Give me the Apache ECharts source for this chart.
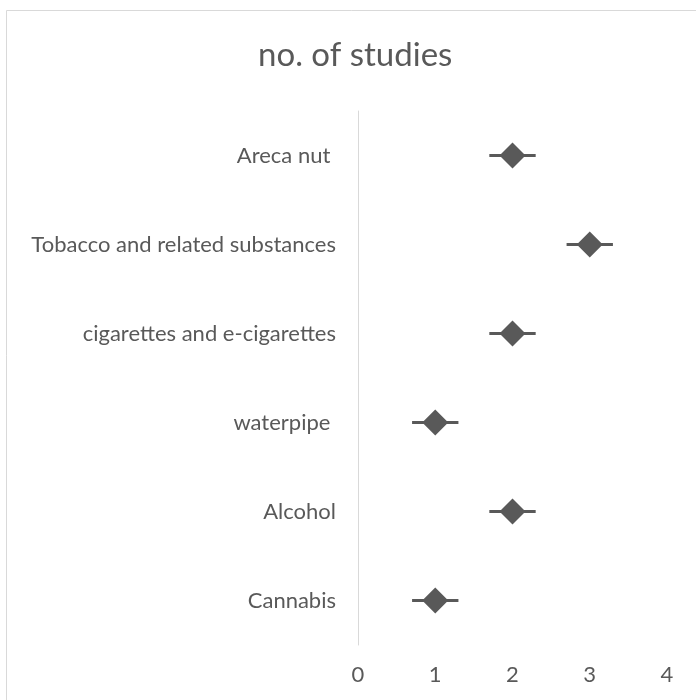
<!DOCTYPE html>
<html>
<head>
<meta charset="utf-8">
<script src="https://cdn.jsdelivr.net/npm/echarts@6/dist/echarts.min.js"></script>
<style>
html,body{margin:0;padding:0;background:#fff;}
#chart{width:696px;height:700px;}
</style>
</head>
<body>
<div id="chart"></div>
<script>
const titleText = 'no. of studies';
const categories = ['Areca nut ', 'Tobacco and related substances', 'cigarettes and e-cigarettes', 'waterpipe ', 'Alcohol', 'Cannabis'];
const studyCounts = [2, 3, 2, 1, 2, 1];
const errorAmounts = [0.3, 0.3, 0.3, 0.3, 0.3, 0.3];
const xTicks = [0, 1, 2, 3, 4];

const FONT = 'Lato';
const GREY = '#595959';

const errData = categories.map((c, i) => [studyCounts[i] - errorAmounts[i], studyCounts[i] + errorAmounts[i], i]);

const chart = echarts.init(document.getElementById('chart'), null, {renderer: 'canvas'});
chart.setOption({
  animation: false,
  backgroundColor: '#fff',
  graphic: [{
    type: 'rect',
    shape: {x: 6.5, y: 10.5, width: 720, height: 720},
    style: {fill: 'none', stroke: '#d9d9d9', lineWidth: 1},
    silent: true, z: -10
  }],
  title: {
    text: titleText,
    left: 253,
    top: 34,
    textStyle: {fontFamily: FONT, fontSize: 33, fontWeight: 'normal', color: GREY}
  },
  grid: {left: 358, right: 29, top: 111, bottom: 55, containLabel: false},
  xAxis: {
    type: 'value',
    min: xTicks[0],
    max: xTicks[xTicks.length - 1],
    interval: 1,
    axisLine: {show: false},
    axisTick: {show: false},
    splitLine: {show: false},
    axisLabel: {color: GREY, fontFamily: FONT, fontSize: 22, margin: 19}
  },
  yAxis: {
    type: 'category',
    data: categories,
    inverse: true,
    axisLine: {show: true, lineStyle: {color: '#d9d9d9', width: 1}},
    axisTick: {show: false},
    splitLine: {show: false},
    axisLabel: {color: GREY, fontFamily: FONT, fontSize: 22, margin: 22}
  },
  series: [
    {
      type: 'custom',
      data: errData,
      encode: {x: [0, 1], y: 2},
      renderItem: function (params, api) {
        const a = api.coord([api.value(0), api.value(2)]);
        const b = api.coord([api.value(1), api.value(2)]);
        return {
          type: 'line',
          shape: {x1: a[0], y1: a[1], x2: b[0], y2: b[1]},
          style: {stroke: GREY, lineWidth: 3}
        };
      },
      z: 1
    },
    {
      type: 'scatter',
      data: studyCounts.map((v, i) => [v, i]),
      symbol: 'diamond',
      symbolSize: [26, 26],
      itemStyle: {color: GREY, opacity: 1},
      z: 2
    }
  ]
});
</script>
</body>
</html>
